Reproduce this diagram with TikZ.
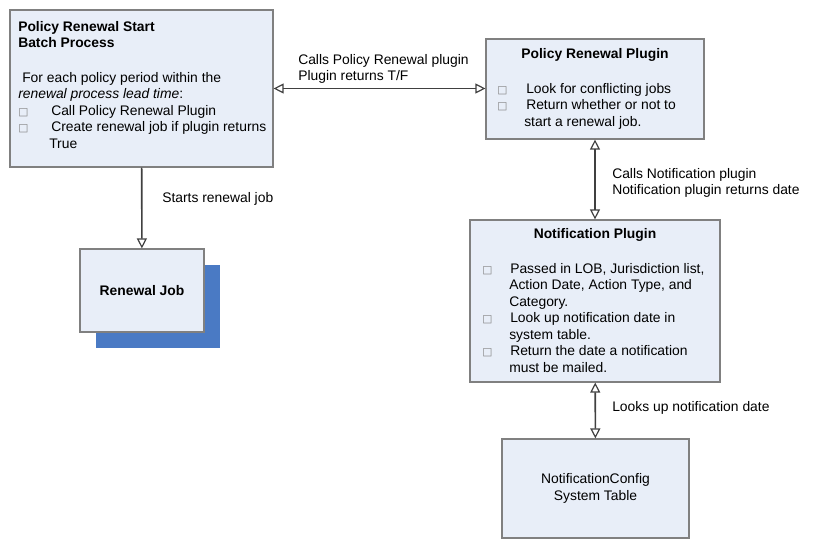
\documentclass[tikz,border=0pt]{standalone}
\usepackage{fontspec}
\setmainfont{Liberation Sans}
\newfontfamily\symfont{DejaVu Sans}
\usetikzlibrary{arrows.meta,positioning}
\definecolor{boxfill}{HTML}{E8EEF8}
\definecolor{boxline}{HTML}{808080}
\definecolor{shadowblue}{HTML}{4A7AC4}
\definecolor{linkgray}{HTML}{404040}
\newcommand{\bul}[1]{\makebox[#1][l]{\textcolor{gray}{\symfont\fontsize{8}{8}\selectfont □}}}
\begin{document}
\begin{tikzpicture}[x=0.75pt,y=-0.75pt,
  box/.style={draw=boxline,fill=boxfill,line width=0.9pt,inner sep=0pt},
  txt/.style={align=left,inner sep=0pt,anchor=north west,font=\fontsize{10.4}{12.4}\selectfont},
  lbl/.style={align=left,inner sep=0pt,anchor=west,font=\fontsize{10.4}{12.4}\selectfont},
  tip/.tip={Triangle[open,length=7.5pt,width=7.5pt,line width=0.9pt]},
  link/.style={draw=linkgray,line width=1.2pt,-tip},
  dlink/.style={draw=linkgray,line width=1.2pt,tip-tip}]
\useasboundingbox (0,0) rectangle (815,550);
% boxes
\node (start) at (141.5,88.5) [box,minimum width=197.25pt,minimum height=117.75pt] {};
\node (prp) at (595,89) [box,minimum width=163.5pt,minimum height=75pt] {};
\node (np) at (595,301) [box,minimum width=187.5pt,minimum height=121.5pt] {};
\node (cfg) at (595.5,488.5) [box,minimum width=140.25pt,minimum height=74.25pt,align=center,
  font=\fontsize{10.4}{12.4}\selectfont] {NotificationConfig\\System Table};
\node (jobshadow) at (158,306.5) [fill=shadowblue,minimum width=93pt,minimum height=62.25pt] {};
\node (job) at (142,290.5) [box,minimum width=93pt,minimum height=62.25pt,
  font=\fontsize{10.4}{12.4}\selectfont\bfseries] {Renewal Job};
% box texts
\node (starttext) at (18,21) [txt] {\textbf{Policy Renewal Start}\\
  \textbf{Batch Process}\\[13.5pt]
  \hspace*{3pt}For each policy period within the\\
  \textit{renewal process lead time}:\\
  \bul{24.75pt}Call Policy Renewal Plugin\\
  \bul{24.75pt}Create renewal job if plugin returns\\
  \hspace*{23.25pt}True};
\node (prptitle) at (595,55) [font=\fontsize{10.4}{12.4}\selectfont\bfseries,inner sep=0pt] {Policy Renewal Plugin};
\node (prptext) at (497,83) [txt] {\bul{21.75pt}Look for conflicting jobs\\
  \bul{21.75pt}Return whether or not to\\
  \hspace*{20.25pt}start a renewal job.};
\node (nptitle) at (595,235) [font=\fontsize{10.4}{12.4}\selectfont\bfseries,inner sep=0pt] {Notification Plugin};
\node (nptext) at (482,263) [txt] {\bul{21pt}Passed in LOB, Jurisdiction list,\\
  \hspace*{20.25pt}Action Date, Action Type, and\\
  \hspace*{20.25pt}Category.\\
  \bul{21pt}Look up notification date in\\
  \hspace*{20.25pt}system table.\\
  \bul{21pt}Return the date a notification\\
  \hspace*{20.25pt}must be mailed.};
% connectors
\draw [dlink] (start.east) -- (start.east -| prp.west);
\draw [link] (start) -- (job);
\draw [dlink] (prp) -- (np);
\draw [dlink] (np) -- (cfg);
% connector labels
\node (calls1) at (298,69) [lbl] {Calls Policy Renewal plugin\\Plugin returns T/F};
\node (starts) at (162,199) [lbl] {Starts renewal job};
\node (calls2) at (612,183) [lbl] {Calls Notification plugin\\Notification plugin returns date};
\node (looks) at (612,408) [lbl] {Looks up notification date};
\end{tikzpicture}
\end{document}
